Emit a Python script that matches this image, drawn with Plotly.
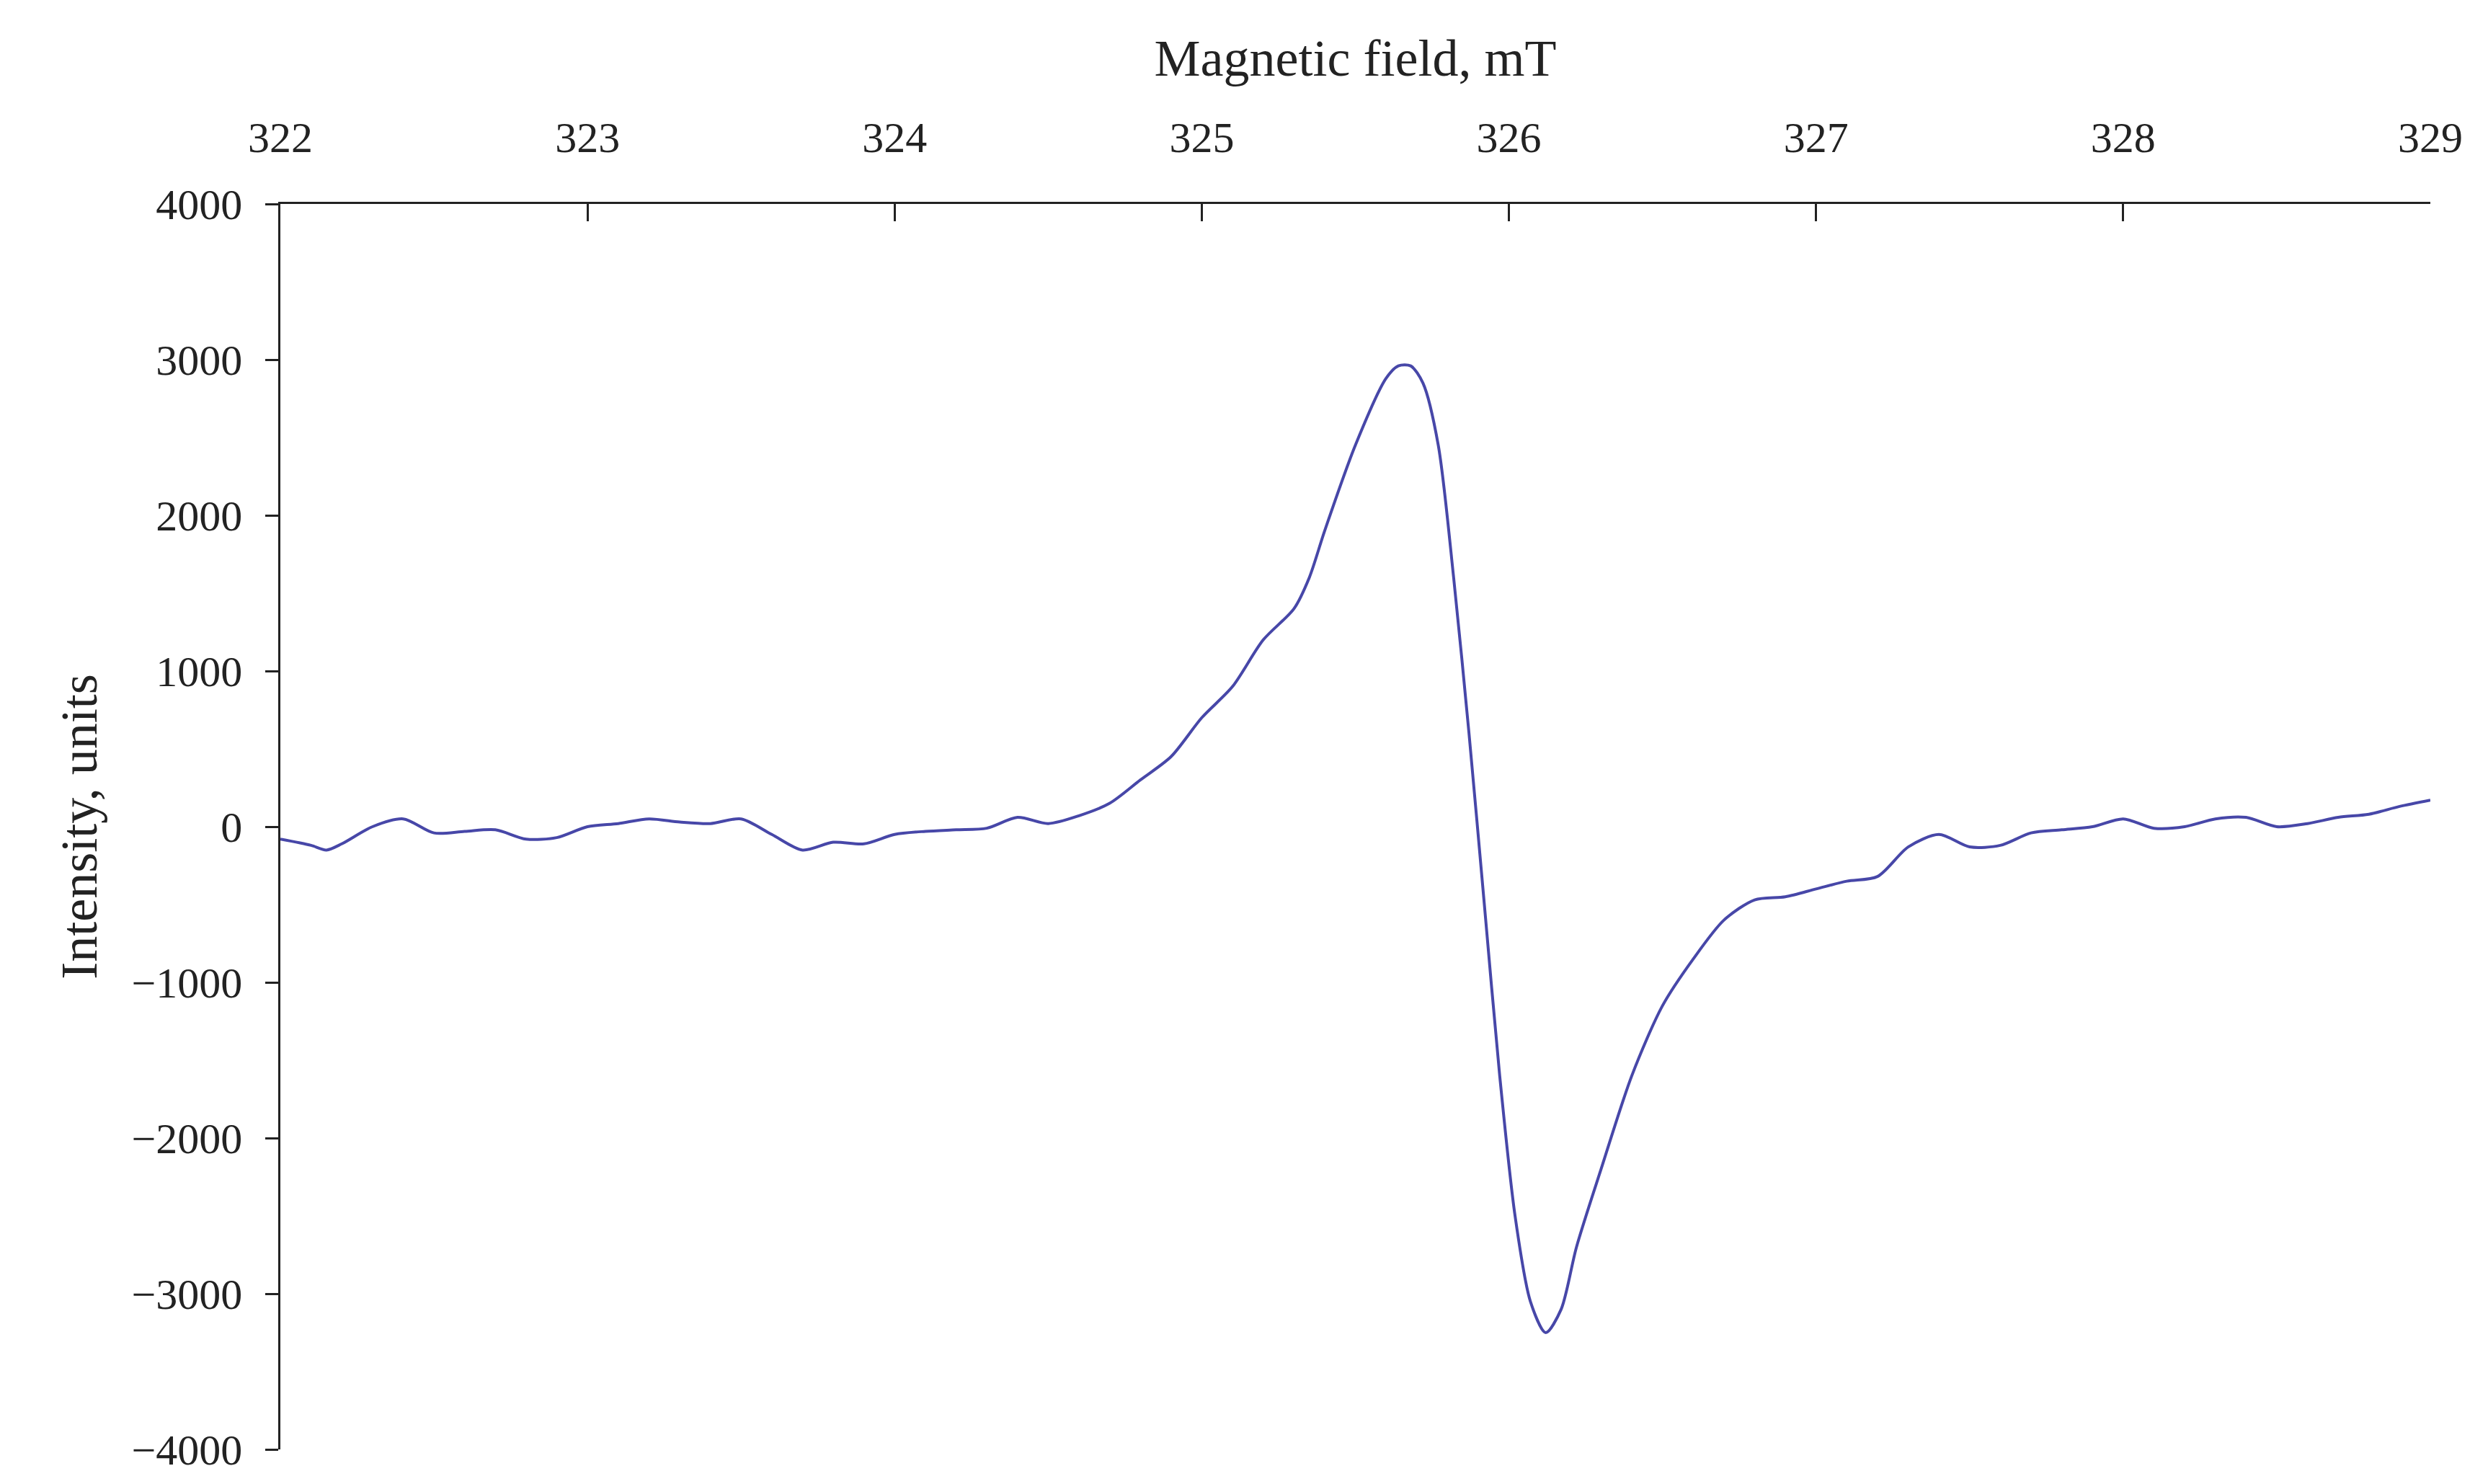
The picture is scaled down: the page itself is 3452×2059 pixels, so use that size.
import plotly.graph_objects as go

field = [322.0,322.1,322.15,322.2,322.3,322.4,322.5,322.6,322.7,322.8,322.9,323.0,323.1,323.2,323.3,323.4,323.5,323.6,323.7,323.8,323.9,324.0,324.1,324.2,324.3,324.4,324.5,324.6,324.7,324.8,324.9,325.0,325.1,325.2,325.3,325.35,325.4,325.5,325.6,325.64,325.68,325.72,325.77,325.82,325.87,325.92,325.97,326.02,326.07,326.12,326.17,326.22,326.3,326.4,326.5,326.6,326.7,326.8,326.9,327.0,327.1,327.2,327.3,327.4,327.5,327.6,327.7,327.8,327.9,328.0,328.1,328.2,328.3,328.4,328.5,328.6,328.7,328.8,328.9,329.0]
intensity = [-80,-120,-150,-110,0,50,-40,-30,-20,-80,-70,0,20,50,30,20,50,-50,-150,-100,-110,-50,-30,-20,-10,60,20,70,150,300,450,700,900,1200,1400,1600,1900,2450,2880,2960,2960,2850,2450,1600,600,-500,-1600,-2500,-3050,-3250,-3100,-2700,-2200,-1600,-1150,-850,-600,-470,-450,-400,-350,-320,-130,-50,-130,-120,-40,-20,0,50,-10,0,50,60,0,20,60,80,130,170]

fig = go.Figure(go.Scatter(x=field, y=intensity, mode="lines",
    line=dict(color="#4747A8", width=4, shape="spline", smoothing=0.8)))
font = dict(family="Liberation Serif", size=60, color="#222")
fig.update_layout(
    width=3452, height=2059, plot_bgcolor="white", paper_bgcolor="white",
    margin=dict(l=381, r=88, t=275, b=56), showlegend=False, font=font,
    xaxis=dict(side="top", range=[322, 329], dtick=1, showgrid=False, zeroline=False,
               showline=True, linecolor="#222", linewidth=2.5, ticks="inside",
               ticklen=24, tickwidth=2.5, tickcolor="#222", ticklabelstandoff=45,
               title=dict(text="Magnetic field, mT", standoff=30)),
    yaxis=dict(range=[-4000, 4000], dtick=1000, showgrid=False, zeroline=False,
               showline=True, linecolor="#222", linewidth=2.5, ticks="outside",
               ticklen=18, tickwidth=2.5, tickcolor="#222", ticklabelstandoff=20,
               title=dict(text="Intensity, units", standoff=25)),
)
fig.write_html("out.html")
